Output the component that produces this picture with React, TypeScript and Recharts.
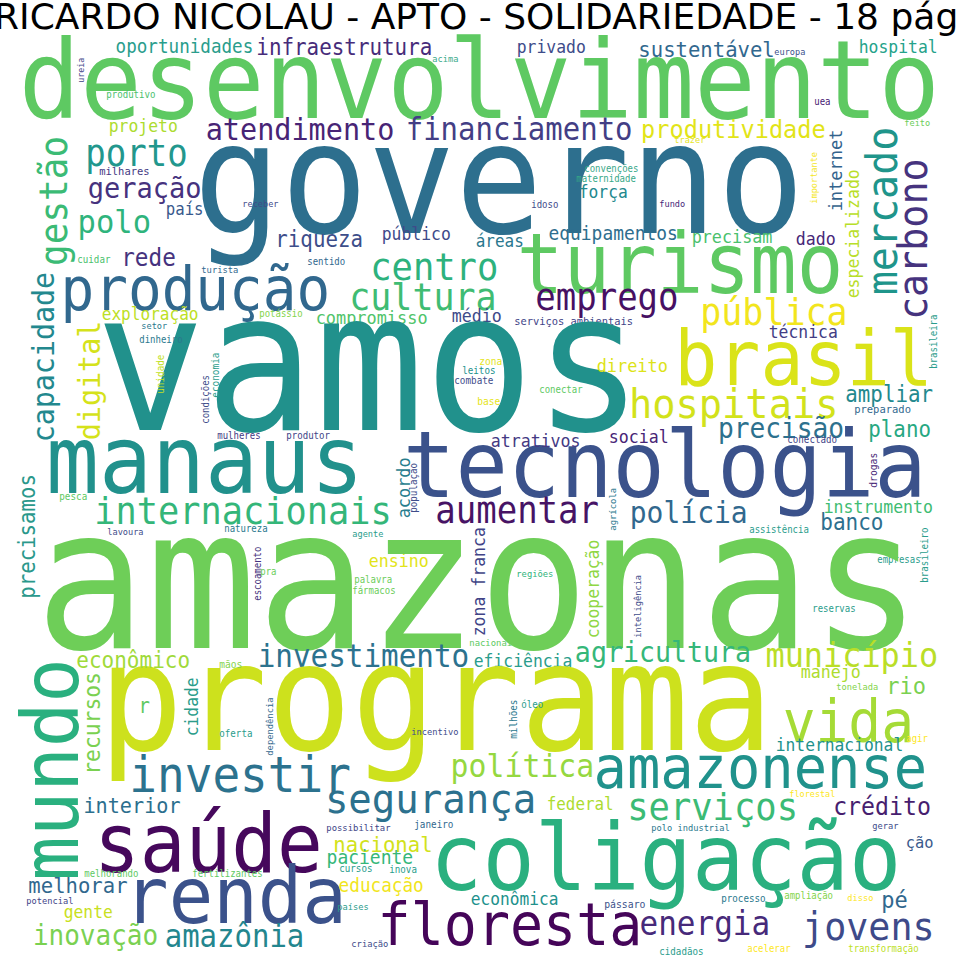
import React from "react";
import { ScatterChart, Scatter, XAxis, YAxis } from "recharts";

const TITLE = "RICARDO NICOLAU - APTO - SOLIDARIEDADE - 18 páginas";

// Horizontal words: text, left x, baseline y, font size, colour
const H_WORDS = [
  "desenvolvimento", "oportunidades", "infraestrutura", "privado", "acima", "sustentável", "europa", "hospital", "produtivo", "uea",
  "feito", "trazer", "projeto", "atendimento", "financiamento", "produtividade", "governo", "porto", "geração", "país",
  "polo", "milhares", "receber", "riqueza", "público", "áreas", "equipamentos", "precisam", "dado", "convenções",
  "maternidade", "força", "idoso", "fundo", "turismo", "produção", "centro", "cultura", "emprego", "pública",
  "compromisso", "médio", "serviços ambientais", "técnica", "brasil", "vamos", "exploração", "setor", "dinheiro", "potássio",
  "turista", "sentido", "cuidar", "rede", "mulheres", "produtor", "manaus", "internacionais", "pesca", "lavoura",
  "natureza", "pra", "tecnologia", "hospitais", "precisão", "ampliar", "plano", "preparado", "conectado", "social",
  "direito", "zona", "leitos", "combate", "conectar", "base", "atrativos", "aumentar", "polícia", "instrumento",
  "banco", "assistência", "empresas", "reservas", "regiões", "ensino", "agente", "palavra", "fármacos", "nacionais",
  "amazonas", "investimento", "eficiência", "agricultura", "município", "manejo", "rio", "tonelada", "programa", "vida",
  "internacional", "agir", "amazonense", "política", "investir", "segurança", "serviços", "crédito", "polo industrial", "gerar",
  "florestal", "ção", "coligação", "saúde", "renda", "interior", "possibilitar", "janeiro", "nacional", "paciente",
  "cursos", "inova", "melhorando", "fertilizantes", "melhorar", "educação", "gente", "países", "inovação", "amazônia",
  "r", "econômico", "mãos", "oferta", "potencial", "incentivo", "óleo", "federal", "econômica", "pássaro",
  "criação", "floresta", "energia", "jovens", "pé", "processo", "ampliação", "disso", "cidadãos", "acelerar",
  "transformação",
];
const H_X = [
  27, 117, 258, 518, 433, 640, 775, 860, 107, 815,
  905, 675, 110, 208, 408, 643, 205, 88, 90, 167,
  80, 100, 243, 277, 383, 477, 550, 693, 797, 585,
  577, 580, 532, 660, 523, 65, 373, 352, 538, 703,
  317, 453, 515, 770, 680, 110, 103, 142, 140, 260,
  202, 308, 78, 123, 218, 287, 53, 97, 60, 108,
  225, 261, 410, 632, 720, 847, 870, 855, 788, 610,
  598, 480, 463, 455, 540, 478, 492, 438, 632, 825,
  822, 750, 878, 813, 517, 370, 353, 355, 353, 470,
  50, 260, 475, 577, 768, 802, 888, 837, 110, 787,
  777, 907, 598, 453, 133, 328, 630, 835, 652, 873,
  790, 907, 437, 100, 130, 85, 327, 415, 335, 328,
  340, 390, 85, 193, 30, 340, 65, 338, 35, 167,
  140, 78, 220, 220, 27, 412, 522, 548, 472, 605,
  352, 382, 642, 805, 883, 722, 785, 848, 660, 748,
  849,
];
const H_Y = [
  118, 53, 55, 53, 62, 57, 55, 53, 98, 105,
  126, 143, 132, 140, 140, 138, 233, 166, 198, 215,
  233, 175, 207, 247, 240, 247, 240, 243, 245, 172,
  182, 198, 208, 207, 293, 310, 280, 310, 310, 325,
  324, 322, 325, 338, 385, 430, 320, 329, 343, 317,
  273, 265, 263, 266, 439, 439, 493, 524, 500, 535,
  532, 575, 497, 418, 438, 402, 437, 413, 443, 443,
  372, 365, 374, 384, 393, 405, 447, 523, 523, 513,
  530, 533, 563, 612, 577, 567, 537, 583, 594, 646,
  648, 667, 667, 662, 667, 678, 694, 690, 750, 742,
  751, 742, 788, 777, 792, 813, 820, 815, 831, 829,
  797, 848, 890, 872, 923, 813, 831, 828, 852, 864,
  872, 873, 877, 877, 893, 892, 918, 910, 945, 947,
  713, 668, 668, 737, 904, 735, 708, 810, 905, 908,
  947, 945, 935, 940, 908, 902, 899, 901, 955, 952,
  952,
];
const H_SIZE = [
  102, 17.6, 20.9, 16.4, 8.7, 20.6, 8.6, 16.4, 9.1, 9,
  8.6, 8.6, 16.4, 28.5, 29, 23.6, 145, 34, 27, 15.7,
  30.5, 10.5, 8.6, 20.8, 16.4, 16, 17.9, 16.8, 16.6, 9,
  9, 16.3, 9, 8.6, 77.5, 56, 35.5, 35, 34, 35,
  16.9, 16.6, 10.4, 16.4, 71.6, 182, 16.1, 8.6, 9, 9,
  8.8, 9, 9.2, 22.7, 9, 9.1, 88, 35.3, 9.3, 8.6,
  9, 9, 87, 38.7, 26.2, 20.8, 20.8, 10.5, 9.2, 16.6,
  16.9, 9.6, 9.2, 9.3, 9, 9.6, 16.6, 34, 28, 16.5,
  21, 9, 9, 9, 8.8, 16.6, 8.6, 9, 9, 8.9,
  184, 29.3, 16.4, 26.6, 31.9, 16.6, 22, 8.7, 140, 54.6,
  16.3, 9, 55.4, 29.8, 46, 39, 35.5, 23.2, 8.7, 8.7,
  8.5, 15.4, 87, 76, 74, 20.2, 8.9, 9.3, 20.6, 18,
  9.2, 9.2, 9, 9, 20.6, 17.7, 16.3, 8.7, 26, 29,
  19, 21, 9.6, 9.2, 8.7, 8.7, 9.2, 15.9, 16.2, 9.8,
  8.8, 55, 31, 36.7, 22, 9.2, 9, 8.7, 9.2, 9,
  9,
];
const H_COLOR = [
  "#5ec962", "#2a9d8c", "#472c7a", "#3e4c8a", "#3aaa8a", "#31688e", "#3b528b", "#25a28a", "#4ac16d", "#482173",
  "#6ccd5a", "#e5e419", "#addc30", "#482475", "#433e85", "#e2e418", "#2d6f8e", "#22978d", "#46327e", "#38598c",
  "#2fb47c", "#443983", "#3e4c8a", "#3d4e8a", "#3f4a8a", "#2a788e", "#2e6e8e", "#4ac16d", "#482878", "#3aa88a",
  "#35a887", "#23898e", "#3e4c8a", "#482878", "#5ec962", "#31688e", "#2db27d", "#3fbc73", "#471063", "#f2e51d",
  "#50c46a", "#3e4a89", "#414487", "#433d84", "#dae319", "#21918c", "#bddf26", "#2a788e", "#2a788e", "#84d44b",
  "#31688e", "#31688e", "#4ac16d", "#46337e", "#443983", "#414487", "#21918c", "#34b679", "#5ec962", "#3e4c8a",
  "#2a788e", "#6ccd5a", "#3b528b", "#d2e21b", "#2d718e", "#23898e", "#27a882", "#31688e", "#414487", "#482576",
  "#dde318", "#e5e419", "#21918c", "#3e4c8a", "#5ec962", "#e5e419", "#443983", "#471365", "#31688e", "#3fbc73",
  "#2d6f8e", "#2a9d8c", "#2a9d8c", "#2a9d8c", "#2fb47c", "#e2e418", "#2a9d8c", "#6ccd5a", "#6ccd5a", "#5ec962",
  "#6ece58", "#2c728e", "#2a9d8c", "#35b779", "#bade28", "#addc30", "#7ad151", "#84d44b", "#cde11d", "#a5db36",
  "#21918c", "#fde725", "#20928c", "#95d840", "#2c728e", "#2c718e", "#3bbb75", "#471e6f", "#2a788e", "#3e4c8a",
  "#fde725", "#3a5a8c", "#2ab07f", "#46085c", "#3b528b", "#2c6f8e", "#414487", "#31688e", "#d2e21b", "#35b779",
  "#2a9d8c", "#2a9d8c", "#5ec962", "#5ec962", "#31688e", "#f1e51d", "#c8e020", "#2a9d8c", "#7ad151", "#23868e",
  "#5ec962", "#9fda3a", "#84d44b", "#2a9d8c", "#414487", "#3e4c8a", "#2a9d8c", "#addc30", "#21918c", "#3b528b",
  "#3e4c8a", "#450559", "#472a7a", "#3e4a89", "#31688e", "#2a788e", "#84d44b", "#fde725", "#2a9d8c", "#fde725",
  "#bddf26",
];

// Vertical words (read bottom to top): text, baseline x, bottom y, font size, colour
const V_WORDS = [
  "gestão", "capacidade", "digital", "precisamos", "mercado", "carbono", "internet", "especializado", "importante", "ureia",
  "unidade", "condições", "economia", "escoamento", "acordo", "população", "zona franca", "cooperação", "agrícola", "inteligência",
  "drogas", "brasileira", "brasileiro", "recursos", "cidade", "dependência", "milhões", "mundo",
];
const V_X = [
  67, 54, 100, 35, 897, 927, 842, 859, 817, 84,
  164, 209, 219, 261, 410, 417, 485, 599, 616, 641,
  877, 937, 928, 100, 198, 273, 517, 78,
];
const V_Y = [
  263, 440, 438, 597, 292, 317, 210, 297, 203, 82,
  393, 423, 397, 600, 517, 512, 635, 637, 530, 637,
  487, 368, 582, 773, 735, 755, 738, 875,
];
const V_SIZE = [
  36, 28.3, 28.4, 20.7, 40, 38.4, 17, 16.5, 8.6, 8.3,
  9.3, 9, 9.4, 9, 16.9, 9.2, 16.5, 16.4, 8.9, 8.7,
  9.7, 9, 9.2, 21.3, 16.3, 8.8, 9.3, 74,
];
const V_COLOR = [
  "#3bbb75", "#23888e", "#d5e21a", "#2a988b", "#1f958b", "#46337e", "#33638d", "#b8de29", "#f4e61e", "#414487",
  "#c2df23", "#3e4c8a", "#2a9d8c", "#46327e", "#287d8e", "#3e4c8a", "#414487", "#8fd744", "#2a788e", "#3e4c8a",
  "#482878", "#2a9d8c", "#2a9d8c", "#7ad151", "#2b9c8a", "#31688e", "#2a788e", "#2ab07f",
];

type Word = { word: string; x: number; y: number; size: number; color: string; vertical: boolean };

const DATA: Word[] = [
  ...H_WORDS.map((w, i) => ({ word: w, x: H_X[i], y: H_Y[i], size: H_SIZE[i], color: H_COLOR[i], vertical: false })),
  ...V_WORDS.map((w, i) => ({ word: w, x: V_X[i], y: V_Y[i], size: V_SIZE[i], color: V_COLOR[i], vertical: true })),
];

const STRETCH = 1.07;
const BEARING = 0.08;
const FONT = "'DejaVu Sans Mono', 'Liberation Mono', monospace";

function WordShape(props: any) {
  const { cx, cy, payload } = props;
  if (cx == null || cy == null || !payload) return null;
  const f = payload.size;
  const transform = payload.vertical
    ? `translate(${cx},${cy + BEARING * f}) rotate(-90) scale(1,${STRETCH})`
    : `translate(${cx - BEARING * f},${cy}) scale(1,${STRETCH})`;
  return (
    <text
      x={0}
      y={0}
      transform={transform}
      fontSize={f}
      fontFamily={FONT}
      fill={payload.color}
      style={{ whiteSpace: "pre" }}
    >
      {payload.word}
    </text>
  );
}

export default function App() {
  return (
    <div
      style={{
        position: "absolute",
        left: 0,
        top: 0,
        width: 960,
        height: 960,
        overflow: "hidden",
        background: "#ffffff",
      }}
    >
      <ScatterChart width={960} height={960} margin={{ top: 0, right: 0, bottom: 0, left: 0 }}>
        <XAxis type="number" dataKey="x" domain={[0, 960]} hide allowDataOverflow />
        <YAxis type="number" dataKey="y" domain={[0, 960]} reversed hide allowDataOverflow />
        <Scatter data={DATA} shape={WordShape} isAnimationActive={false} />
      </ScatterChart>
      <svg
        width={960}
        height={60}
        style={{ position: "absolute", left: 0, top: 0, pointerEvents: "none" }}
      >
        <text x={-6} y={29} fontSize={36} fontFamily="'DejaVu Sans', sans-serif" fill="#000">
          {TITLE}
        </text>
      </svg>
    </div>
  );
}
